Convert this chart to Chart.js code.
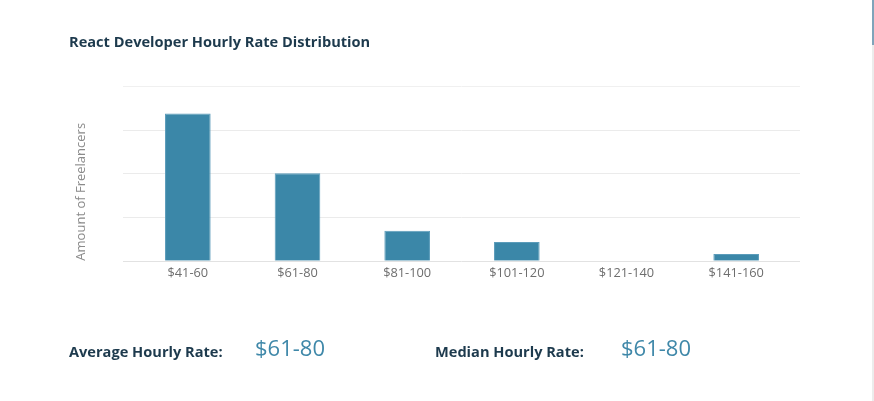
<!DOCTYPE html>
<html>
<head>
<meta charset="utf-8">
<script src="https://cdn.jsdelivr.net/npm/chart.js@4.4.1/dist/chart.umd.min.js"></script>
<style>
  html, body { margin: 0; padding: 0; background: #fff; width: 874px; height: 401px; overflow: hidden; font-family: "Open Sans", sans-serif; }
  #wrap { position: absolute; left: 0; top: 0; width: 874px; height: 401px; }
  .title { position: absolute; left: 69px; top: 31px; font-size: 14.6px; font-weight: 700; color: #1d3a4d; white-space: nowrap; }
  .lbl { position: absolute; top: 341px; font-size: 14.6px; font-weight: 700; color: #1d3a4d; white-space: nowrap; }
  .val { position: absolute; top: 332px; font-size: 22px; font-weight: 400; color: #3f88a9; white-space: nowrap; }
  #track { position: absolute; left: 872px; top: 0; width: 2px; height: 401px; background: #ececec; }
  #thumb { position: absolute; left: 872px; top: 0; width: 2px; height: 45px; background: #7fa4ba; }
</style>
</head>
<body>
<div id="wrap"><canvas id="c"></canvas></div>
<div class="title">React Developer Hourly Rate Distribution</div>
<div class="lbl" style="left:69px">Average Hourly Rate:</div>
<div class="val" style="left:255px">$61-80</div>
<div class="lbl" style="left:435px">Median Hourly Rate:</div>
<div class="val" style="left:621px">$61-80</div>
<div id="track"></div><div id="thumb"></div>
<script>
const categories = ["$41-60", "$61-80", "$81-100", "$101-120", "$121-140", "$141-160"];
const freelancers = [33.7, 20, 6.85, 4.27, 0, 1.53];
const yAxisTitle = "Amount of Freelancers";
const yMax = 40;
const yStep = 10;

const extendedGrid = {
  id: 'extendedGrid',
  beforeDatasetsDraw(chart) {
    const y = chart.scales.y;
    const a = chart.chartArea;
    const ctx = chart.ctx;
    ctx.save();
    ctx.lineWidth = 1;
    y.ticks.forEach((t) => {
      const py = Math.round(y.getPixelForValue(t.value)) + 0.5;
      ctx.strokeStyle = t.value === 0 ? '#e2e2e2' : (t.value === yMax ? '#f0f0f0' : '#ebebeb');
      ctx.beginPath();
      ctx.moveTo(a.left - 10, py);
      ctx.lineTo(a.right + 9, py);
      ctx.stroke();
    });
    ctx.restore();
  }
};

new Chart(document.getElementById('c'), {
  type: 'bar',
  data: {
    labels: categories,
    datasets: [{
      data: freelancers,
      backgroundColor: '#3b87a8',
      borderColor: '#5b9cba',
      borderWidth: 1,
      barPercentage: 0.416,
      categoryPercentage: 1.0
    }]
  },
  options: {
    responsive: true,
    maintainAspectRatio: false,
    animation: false,
    layout: { padding: { left: 60, right: 83, top: 86, bottom: 115 } },
    plugins: { legend: { display: false }, tooltip: { enabled: false } },
    scales: {
      x: {
        grid: { display: false, drawTicks: false },
        border: { display: false },
        ticks: { color: '#6e6e6e', padding: 5, font: { family: 'Open Sans', size: 12.8 } }
      },
      y: {
        min: 0, max: yMax,
        ticks: { display: false, stepSize: yStep },
        grid: { display: false, drawTicks: false },
        border: { display: false },
        title: { display: true, text: yAxisTitle, align: 'start', color: '#8a8a8a', padding: { top: 13, bottom: 0 }, font: { family: 'Open Sans', size: 13 } },
        afterFit(scale) { scale.width = 73; }
      }
    }
  },
  plugins: [extendedGrid]
});
</script>
</body>
</html>
